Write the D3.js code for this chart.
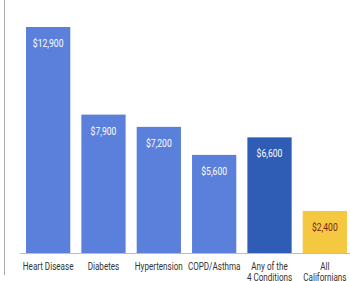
<!DOCTYPE html>
<html>
<head>
<meta charset="utf-8">
<script src="https://cdn.jsdelivr.net/npm/d3@7"></script>
<style>
  body { margin: 0; background: #fff; }
  .cat { font-family: "Roboto", sans-serif; font-size: 10px; fill: #333; }
  .val { font-family: "Roboto", sans-serif; font-size: 10px; }
</style>
</head>
<body>
<script>
var width = 350;
var height = 281;

// 数据
var categories = ["Heart Disease", "Diabetes", "Hypertension", "COPD/Asthma", "Any of the|4 Conditions", "All|Californians"];
var values = [12900, 7900, 7200, 5600, 6600, 2400];
var labels = ["$12,900", "$7,900", "$7,200", "$5,600", "$6,600", "$2,400"];
var barColors = ["#5b80dc", "#5b80dc", "#5b80dc", "#5b80dc", "#2f5db5", "#f5c842"];
var labelColors = ["#fff", "#fff", "#fff", "#fff", "#fff", "#7a2512"];

var baseY = 253;
var squeeze = 0.81;   // 字体横向压缩
var svg = d3.select("body").append("svg")
    .attr("width", width)
    .attr("height", height);

var xScale = d3.scaleBand()
    .domain(d3.range(categories.length))
    .range([26, 347])
    .paddingInner(0.2)
    .paddingOuter(0);

var yScale = d3.scaleLinear()
    .domain([0, 12900])
    .range([baseY, 27]);

// 左侧竖线
svg.append("line")
    .attr("x1", 4.5).attr("x2", 4.5)
    .attr("y1", 0).attr("y2", 275)
    .attr("stroke", "#aaa").attr("stroke-width", 1);

svg.selectAll(".bar")
    .data(values)
    .enter()
    .append("rect")
    .attr("class", "bar")
    .attr("x", function (d, i) { return xScale(i); })
    .attr("y", function (d) { return yScale(d); })
    .attr("width", xScale.bandwidth())
    .attr("height", function (d) { return baseY - yScale(d); })
    .attr("fill", function (d, i) { return barColors[i]; });

// 基线
svg.append("line")
    .attr("x1", 20).attr("x2", 350)
    .attr("y1", baseY + 0.5).attr("y2", baseY + 0.5)
    .attr("stroke", "#b8bcc8").attr("stroke-width", 1);

svg.selectAll(".val")
    .data(values)
    .enter()
    .append("text")
    .attr("class", "val")
    .attr("text-anchor", "middle")
    .attr("transform", function (d, i) {
        return "translate(" + (xScale(i) + xScale.bandwidth() / 2) + "," + (yScale(d) + 20) + ") scale(0.86,1)";
    })
    .attr("fill", function (d, i) { return labelColors[i]; })
    .text(function (d, i) { return labels[i]; });

var cats = svg.selectAll(".cat")
    .data(categories)
    .enter()
    .append("text")
    .attr("class", "cat")
    .attr("text-anchor", "middle")
    .attr("transform", function (d, i) {
        return "translate(" + (xScale(i) + xScale.bandwidth() / 2) + ",270) scale(" + squeeze + ",1)";
    });

cats.selectAll("tspan")
    .data(function (d) { return d.split("|"); })
    .enter()
    .append("tspan")
    .attr("x", 0)
    .attr("dy", function (d, j) { return j === 0 ? 0 : 11; })
    .text(function (d) { return d; });
</script>
</body>
</html>
